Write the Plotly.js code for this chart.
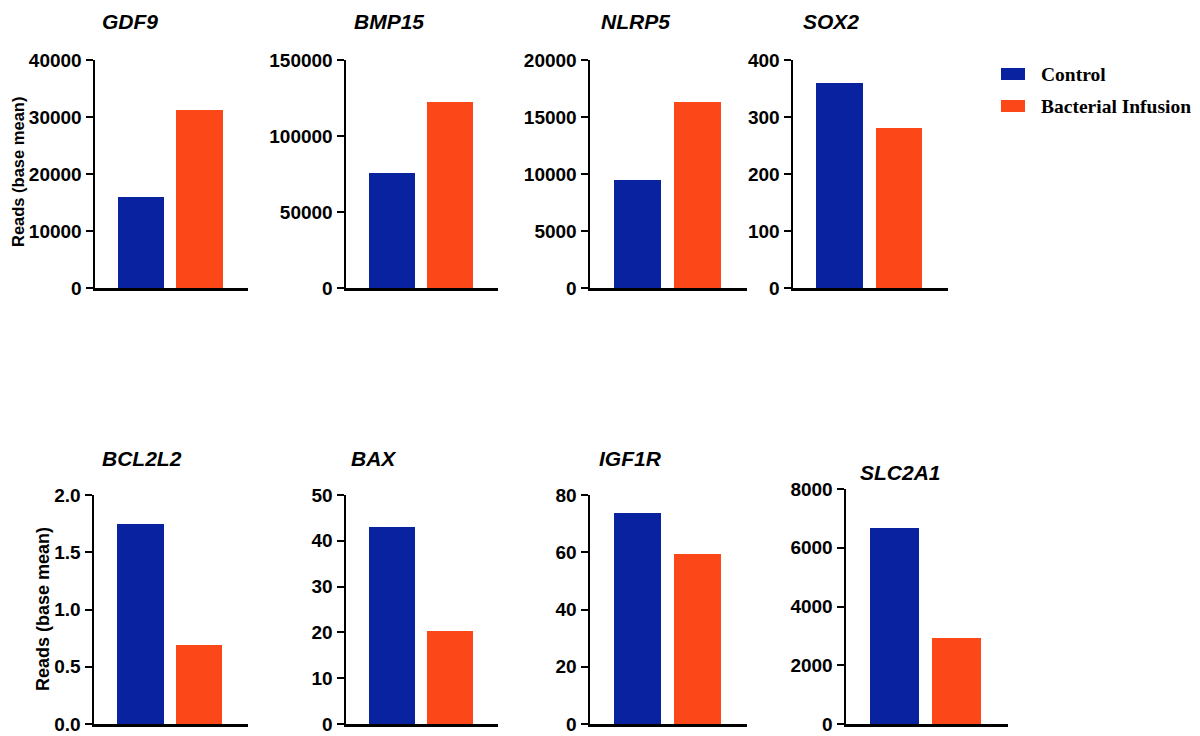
<!DOCTYPE html>
<html>
<head>
<meta charset="utf-8">
<script src="https://cdn.plot.ly/plotly-3.0.1.min.js"></script>
<style>
  html, body { margin: 0; padding: 0; background: #ffffff; }
  #chart { width: 1200px; height: 736px; }
</style>
</head>
<body>
<div id="chart"></div>
<script>
// Gene expression read counts (base mean) per group
const genes = ['GDF9', 'BMP15', 'NLRP5', 'SOX2', 'BCL2L2', 'BAX', 'IGF1R', 'SLC2A1'];
const groups = ['Control', 'Bacterial Infusion'];
const controlReads = [16000, 75700, 9450, 360, 1.75, 43.1, 73.6, 6680];
const infusionReads = [31200, 122300, 16300, 281, 0.69, 20.2, 59.3, 2940];
const axisMax = [40000, 150000, 20000, 400, 2.0, 50, 80, 8000];
const axisStep = [10000, 50000, 5000, 100, 0.5, 10, 20, 2000];
const axisFormat = ['d', 'd', 'd', 'd', '.1f', 'd', 'd', 'd'];
const yAxisTitle = 'Reads (base mean)';

const groupColors = ['#0922A0', '#FC4819'];

const W = 1200, H = 736;
const fx = p => p / W;
const fy = p => 1 - p / H;

// Panel frames in pixels: [left, right, top, bottom] of the plotting area
const frames = [
  [95, 248, 60, 288], [346, 498, 60, 288], [590, 747, 60, 288], [793, 948, 60, 288],
  [94, 248, 495, 724], [346, 498, 495, 724], [590, 747, 495, 724], [846, 1008, 489, 724]
];
// Gene title centres in pixels
const titlePos = [
  [130, 21], [389, 21], [635, 21], [831, 21],
  [142, 458], [374, 458], [630, 458], [900, 472]
];

const sans = 'Liberation Sans, Arial, sans-serif';
const tickFont = { family: sans, size: 19, color: '#000', weight: 'bold' };

const traces = [];
const layout = {
  width: W, height: H,
  margin: { l: 0, r: 0, t: 0, b: 0 },
  paper_bgcolor: '#ffffff',
  plot_bgcolor: 'rgba(0,0,0,0)',
  showlegend: false,
  bargap: 0,
  annotations: [],
  shapes: []
};

genes.forEach((gene, i) => {
  const n = i + 1;
  const xa = 'x' + (n === 1 ? '' : n);
  const ya = 'y' + (n === 1 ? '' : n);
  const [l, r, t, b] = frames[i];

  [controlReads[i], infusionReads[i]].forEach((v, g) => {
    traces.push({
      type: 'bar',
      x: [groups[g]],
      y: [v],
      width: 0.79,
      name: groups[g],
      marker: { color: groupColors[g], line: { width: 0 } },
      xaxis: xa, yaxis: ya,
      hoverinfo: 'x+y'
    });
  });

  layout['xaxis' + (n === 1 ? '' : n)] = {
    domain: [fx(l), fx(r)],
    anchor: ya,
    type: 'category',
    categoryarray: groups,
    range: [-0.79, 1.83],
    showticklabels: false,
    ticks: '',
    showgrid: false,
    zeroline: false,
    showline: true,
    linecolor: '#000',
    linewidth: 2.5,
    fixedrange: true
  };
  layout['yaxis' + (n === 1 ? '' : n)] = {
    domain: [fy(b), fy(t)],
    anchor: xa,
    range: [0, axisMax[i]],
    tick0: 0,
    dtick: axisStep[i],
    tickformat: axisFormat[i],
    ticks: 'outside',
    ticklen: 7,
    tickwidth: 2,
    tickcolor: '#000',
    tickfont: tickFont,
    showgrid: false,
    zeroline: false,
    showline: true,
    linecolor: '#000',
    linewidth: 2.5,
    fixedrange: true
  };

  layout.annotations.push({
    text: gene,
    xref: 'paper', yref: 'paper',
    x: fx(titlePos[i][0]), y: fy(titlePos[i][1]),
    xanchor: 'center', yanchor: 'middle',
    showarrow: false,
    font: { family: sans, size: 21, color: '#000', weight: 'bold', style: 'italic' }
  });
});

// Shared y-axis titles for each row
layout.annotations.push({
  text: yAxisTitle, textangle: -90,
  xref: 'paper', yref: 'paper', x: fx(18), y: fy(172),
  xanchor: 'center', yanchor: 'middle', showarrow: false,
  font: { family: sans, size: 16.5, color: '#000', weight: 'bold' }
});
layout.annotations.push({
  text: yAxisTitle, textangle: -90,
  xref: 'paper', yref: 'paper', x: fx(43), y: fy(609),
  xanchor: 'center', yanchor: 'middle', showarrow: false,
  font: { family: sans, size: 18, color: '#000', weight: 'bold' }
});

// Legend: colour swatches with serif labels
const legendRows = [74, 106];
groups.forEach((g, k) => {
  const cy = legendRows[k];
  layout.shapes.push({
    type: 'rect', xref: 'paper', yref: 'paper',
    x0: fx(1001), x1: fx(1025), y0: fy(cy - 6), y1: fy(cy + 6),
    fillcolor: groupColors[k], line: { width: 0 }
  });
  layout.annotations.push({
    text: g,
    xref: 'paper', yref: 'paper', x: fx(1039), y: fy(cy + 1),
    xanchor: 'left', yanchor: 'middle', showarrow: false,
    font: { family: 'Liberation Serif, Times New Roman, serif', size: 19.5, color: '#000', weight: 'bold' }
  });
});

Plotly.newPlot('chart', traces, layout, { displayModeBar: false, staticPlot: true });
</script>
</body>
</html>
